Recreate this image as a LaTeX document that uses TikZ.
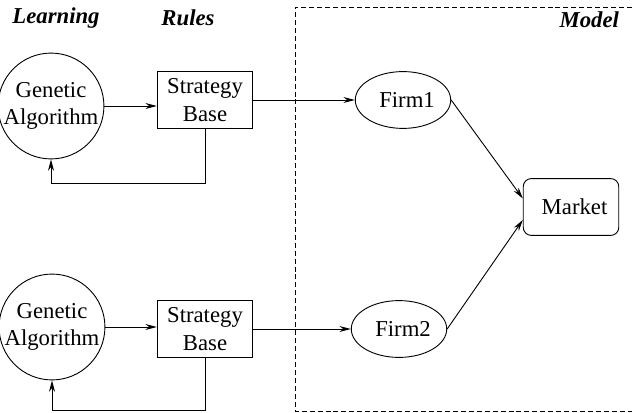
\documentclass[tikz,border=0pt]{standalone}
\usepackage{fontspec}
\setmainfont{LiberationSerif}[Extension=.ttf, UprightFont=*-Regular, BoldFont=*-Bold,
  ItalicFont=*-Italic, BoldItalicFont=*-BoldItalic]
\usetikzlibrary{positioning, arrows.meta, shapes.geometric}

\begin{document}
\begin{tikzpicture}[x=0.44pt, y=-0.44pt, font=\normalsize, line width=0.4pt,
    ga/.style={draw, circle, minimum size=42pt, inner sep=0pt, align=center},
    sbox/.style={draw, rectangle, minimum width=42pt, minimum height=25pt, align=center},
    firm/.style={draw, ellipse, minimum width=42pt, minimum height=25pt, inner xsep=0pt,
      text width=28pt, align=right},
    arr/.style={-{Stealth[length=5pt, width=2.6pt]}}]
    \useasboundingbox (0,0) rectangle (632,413);
    % boundary of the model, open on the right
    \draw[dash pattern=on 2.2pt off 1.3pt] (640,7) -- (295,7) -- (295,411) -- (640,411);
    \node[font=\bfseries\itshape] (learn) at (56,18) {Learning};
    \node[font=\bfseries\itshape] (rules) at (188,18) {Rules};
    \node[font=\bfseries\itshape, anchor=east] (model) at (627,20) {Model};
    % first firm
    \node[ga] (ga1) at (51,106) {Genetic\\Algorithm};
    \node[sbox] (sb1) at (205,100) {Strategy\\Base};
    \node[firm] (f1) at (403,100) {Firm1};
    % second firm
    \node[ga] (ga2) at (52,327) {Genetic\\Algorithm};
    \node[sbox] (sb2) at (205,329) {Strategy\\Base};
    \node[firm] (f2) at (399,329) {Firm2};
    \node[draw, rounded corners=3.5pt, minimum width=42pt, minimum height=25pt,
      text width=32pt, align=right] (mk) at (571,207) {Market};
    \draw[arr] (ga1.east) -- (sb1.west |- ga1.east);
    \draw[arr] (sb1.east) -- (f1.west);
    \draw[arr] (sb1.south) -- ++(0,54) -| (ga1.south);
    \draw[arr] (ga2.east) -- (sb2.west |- ga2.east);
    \draw[arr] (sb2.east) -- (f2.west);
    \draw[arr] (sb2.south) -- ++(0,52) -| (ga2.south);
    \draw[arr] (f1.east) -- (mk.170);
    \draw[arr] (f2.east) -- (mk.195);
\end{tikzpicture}
\end{document}
